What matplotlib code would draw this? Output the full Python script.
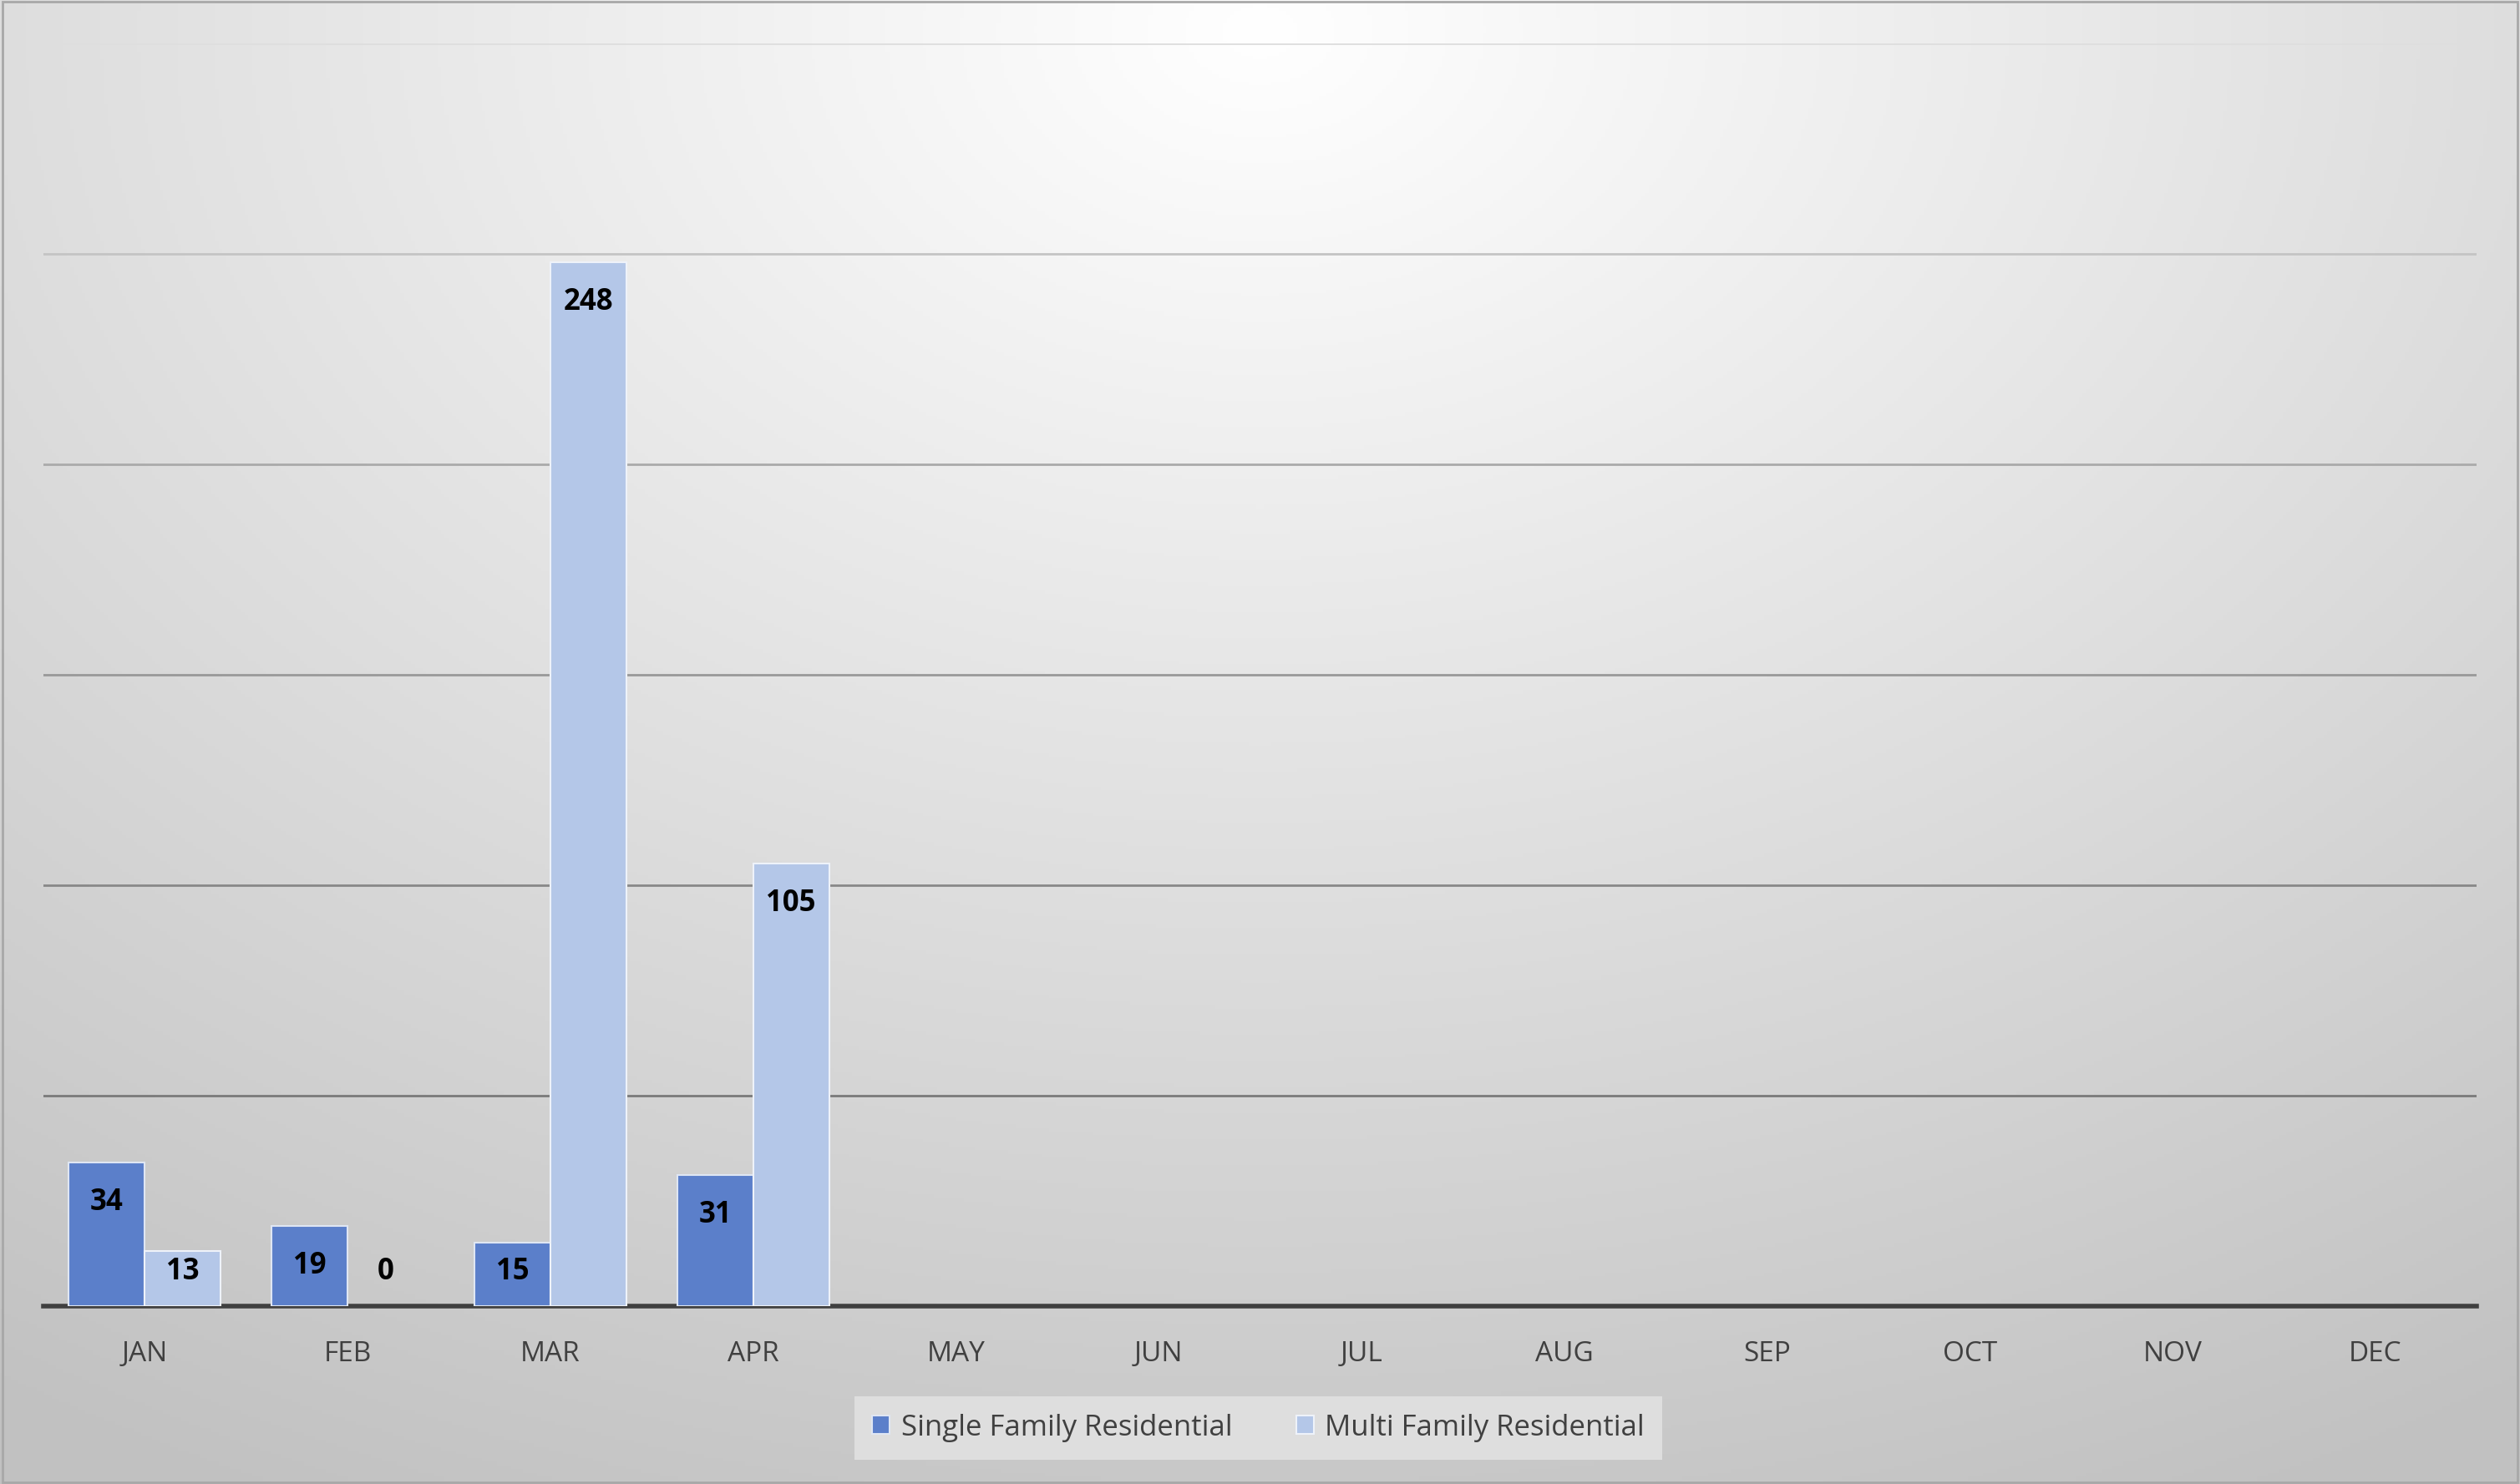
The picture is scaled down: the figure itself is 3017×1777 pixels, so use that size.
import numpy as np
import matplotlib
matplotlib.use("Agg")
import matplotlib.pyplot as plt

months = ["JAN","FEB","MAR","APR","MAY","JUN","JUL","AUG","SEP","OCT","NOV","DEC"]
single = [34, 19, 15, 31]
multi = [13, 0, 248, 105]

plt.rcParams['font.family'] = ['Open Sans', 'DejaVu Sans']
W, H = 3017, 1777
fig = plt.figure(figsize=(W/100, H/100), dpi=100)

bg = fig.add_axes([0, 0, 1, 1])
yy, xx = np.mgrid[0:1:400j, 0:1:680j]
d = np.sqrt(((xx-0.5)*1.2)**2 + ((yy-0.02)*1.0)**2)
v = np.clip(1 - 0.22*np.clip(d, 0, 1.1), 0, 1)
bg.imshow(np.dstack([v, v, v]), extent=[0, 1, 0, 1], origin='upper', aspect='auto')
bg.set_xlim(0, 1); bg.set_ylim(0, 1); bg.axis('off')
bg.add_patch(plt.Rectangle((0.001, 0.001), 0.998, 0.998, fill=False, ec='#a8a8a8', lw=2))

ax = fig.add_axes([27/1568, 1-813/924, (1541-27)/1568, (813-27)/924])
ax.patch.set_alpha(0)
x = np.arange(len(months))
w = 0.375
b1 = ax.bar(x[:len(single)] - w/2, single, w, color='#5B7FCA', edgecolor='#dfe6f3', lw=1.5, zorder=3,
            label='Single Family Residential')
b2 = ax.bar(x[:len(multi)] + w/2, multi, w, color='#B4C7E8', edgecolor='#eef2f9', lw=1.5, zorder=3,
            label='Multi Family Residential')
for bars, vals in ((b1, single), (b2, multi)):
    for r, vi in zip(bars, vals):
        if vi == 0:
            r.set_linewidth(0)
for xs, vals in ((x[:len(single)] - w/2, single), (x[:len(multi)] + w/2, multi)):
    for xi, vi in zip(xs, vals):
        ax.text(xi, max(vi, 17.6) - 9.5, str(vi), ha='center', va='center',
                fontsize=25, fontweight='bold', color='black', zorder=4)
ax.set_xlim(-0.5, 11.5)
ax.set_ylim(0, 300)
grid_colors = ['#7a7a7a', '#888888', '#999999', '#aaaaaa', '#c4c4c4', '#dedede']
for yv, c in zip(range(50, 301, 50), grid_colors):
    ax.axhline(yv, color=c, lw=2, zorder=0)
ax.set_yticks([])
ax.set_xticks(x)
ax.set_xticklabels(months, fontsize=24, color='#404040')
ax.tick_params(axis='x', length=0, pad=30)
for s in ['top', 'right', 'left']:
    ax.spines[s].set_visible(False)
ax.spines['bottom'].set_color('#404040')
ax.spines['bottom'].set_linewidth(4)

leg = fig.legend(loc='center', bbox_to_anchor=(783/1568, 1-889/924), ncol=2, fontsize=25,
                 frameon=True, fancybox=False, handlelength=0.6, handleheight=0.6,
                 handletextpad=0.4, columnspacing=2.2, borderpad=0.6, borderaxespad=0)
leg.get_frame().set_facecolor('#e4e4e4')
leg.get_frame().set_edgecolor('none')
for t in leg.get_texts():
    t.set_color('#404040')
fig.savefig('out.png', dpi=100)
